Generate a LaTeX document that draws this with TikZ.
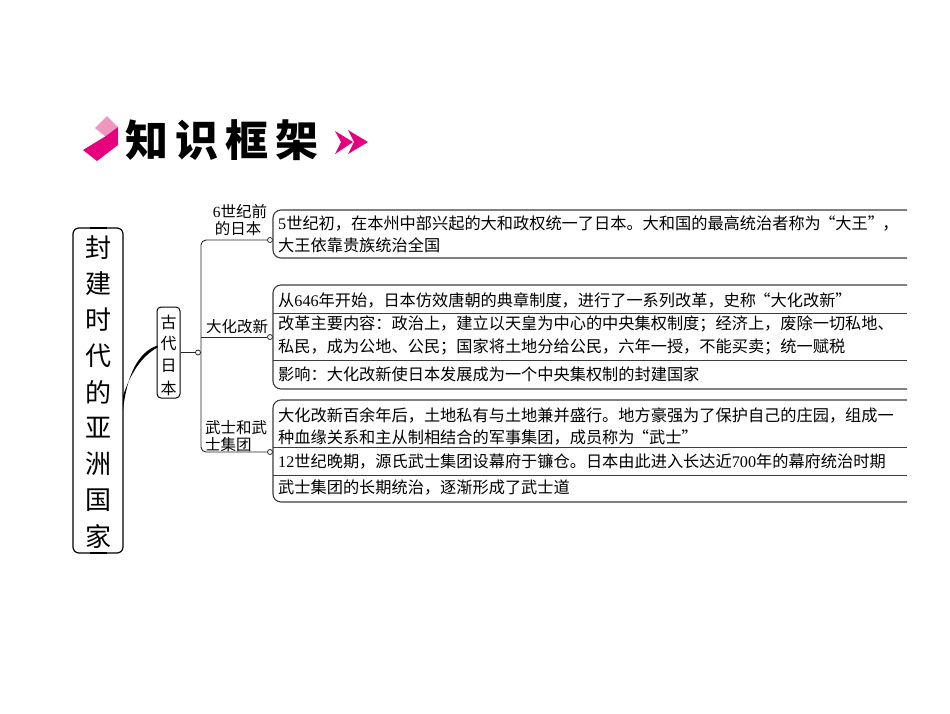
\documentclass[tikz,border=0pt]{standalone}
\usepackage{fontspec}
\setmainfont{Noto Sans CJK SC}
\newfontfamily\latf{Liberation Serif}
\usetikzlibrary{calc}
\definecolor{mag}{RGB}{229,0,126}
\definecolor{lpink}{RGB}{240,150,192}
\definecolor{lineg}{RGB}{60,60,60}
\newcommand\myqo{\makebox[0.9em][r]{“}}
\newcommand\myqc{\makebox[0.9em][l]{”}}
\begin{document}
\begin{tikzpicture}[x=1pt,y=-1pt,
  txt/.style={anchor=west,inner sep=0pt,font=\fontsize{16.2}{18}\selectfont},
  lbl/.style={inner sep=0pt,font=\fontsize{15.5}{17}\selectfont},
  vch/.style={inner sep=0pt,font=\fontsize{26}{28}\selectfont},
  gch/.style={inner sep=0pt,font=\fontsize{16}{18}\selectfont},
  tch/.style={inner sep=0pt,font=\fontsize{43}{45}\selectfont\bfseries},
  grp/.style={draw=lineg,line width=1.1pt,rounded corners=8pt},
  sep/.style={draw=lineg,line width=1pt},
  conn/.style={draw=black!85,line width=0.9pt},
  dot/.style={circle,draw=black!85,fill=white,line width=0.8pt,inner sep=0pt,minimum size=5pt}]
\useasboundingbox (0,0) rectangle (950,713);
\fill[white] (0,0) rectangle (950,713);

% header logo
\fill[lpink] (95,128) -- (107,116) -- (118,127) -- (106,137) -- cycle;
\fill[mag] (83,150) -- (106,136) -- (118,127) -- (118,145) -- (97,161) -- cycle;
\node[tch] (t1) at (147,140) {知};
\node[tch] (t2) at (197,140) {识};
\node[tch] (t3) at (247,140) {框};
\node[tch] (t4) at (297,140) {架};
\fill[mag] (335,131) -- (353,142) -- (335,154) -- (341,142) -- cycle;
\fill[mag] (348,130) -- (368,142) -- (348,154) -- (354,142) -- cycle;

% main vertical box
\node[draw=black,line width=1.2pt,rounded corners=6pt,minimum width=50pt,minimum height=325pt,inner sep=0pt] (main) at (98,390.5) {};
\draw[line width=2.6pt] (90,228) -- (107,228);
\draw[line width=2.6pt] (90,553) -- (107,553);
\foreach \c [count=\i from 0] in {封,建,时,代,的,亚,洲,国,家}
  \node[vch] (m\i) at (98,{248+36*\i}) {\c};

% 古代日本 box
\node[draw=black,line width=1pt,rounded corners=4pt,minimum width=23pt,minimum height=91pt,inner sep=0pt] (gd) at (168.5,352.5) {};
\foreach \c [count=\i from 0] in {古,代,日,本}
  \node[gch] (g\i) at (168.5,{322+22*\i}) {\c};

% tapered curve from main to gd
\coordinate (cA) at (123,410);
\coordinate (cB) at (123,396);
\coordinate (cC) at (157.5,345.5);
\coordinate (cD) at (157.5,347.5);
\fill[black] (cA) .. controls (127,375) and (138,352) .. (cC) -- (cD) .. controls (142,356) and (131,372) .. (cB) -- cycle;

% connector gd -> trunk
\node[dot] (d0) at (198,352.5) {};
\draw[conn] (gd.east) -- (d0.west);

% trunk and branches
\node[dot] (d1) at (270,240) {};
\node[dot] (d2) at (270,337) {};
\node[dot] (d3) at (270,452) {};
\draw[conn,rounded corners=5pt] (d1.west) -- (201,240) -- (201,452) -- (d3.west);
\draw[conn] (201,337) -- (d2.west);

% branch labels
\node[lbl] (b1a) at (240,212) {{\latf 6}世纪前};
\node[lbl] (b1b) at (238,229) {的日本};
\node[lbl] (b2) at (237,327) {大化改新};
\node[lbl,anchor=west] (b3a) at (205,428) {武士和武};
\node[lbl,anchor=west] (b3b) at (205,445) {士集团};

% group 1
\draw[grp] (907,210) -- (273,210) -- (273,258) -- (907,258);
\node[txt] (p1) at (278,223) {{\latf 5}世纪初，在本州中部兴起的大和政权统一了日本。大和国的最高统治者称为\myqo 大王\myqc，};
\node[txt] (p2) at (278,245) {大王依靠贵族统治全国};

% group 2
\draw[grp] (907,285) -- (273,285) -- (273,389) -- (907,389);
\draw[sep] (273,313) -- (907,313);
\draw[sep] (273,360) -- (907,360);
\node[txt] (q1) at (278,300) {从{\latf 646}年开始，日本仿效唐朝的典章制度，进行了一系列改革，史称\myqo 大化改新\myqc};
\node[txt] (q2) at (278,324) {改革主要内容：政治上，建立以天皇为中心的中央集权制度；经济上，废除一切私地、};
\node[txt] (q3) at (278,347) {私民，成为公地、公民；国家将土地分给公民，六年一授，不能买卖；统一赋税};
\node[txt] (q4) at (278,374) {影响：大化改新使日本发展成为一个中央集权制的封建国家};

% group 3
\draw[grp] (907,400) -- (273,400) -- (273,502) -- (907,502);
\draw[sep] (273,447) -- (907,447);
\draw[sep] (273,475) -- (907,475);
\node[txt] (r1) at (278,415) {大化改新百余年后，土地私有与土地兼并盛行。地方豪强为了保护自己的庄园，组成一};
\node[txt] (r2) at (278,437) {种血缘关系和主从制相结合的军事集团，成员称为\myqo 武士\myqc};
\node[txt] (r3) at (278,461) {{\latf 12}世纪晚期，源氏武士集团设幕府于镰仓。日本由此进入长达近{\latf 700}年的幕府统治时期};
\node[txt] (r4) at (278,488) {武士集团的长期统治，逐渐形成了武士道};
\end{tikzpicture}
\end{document}
